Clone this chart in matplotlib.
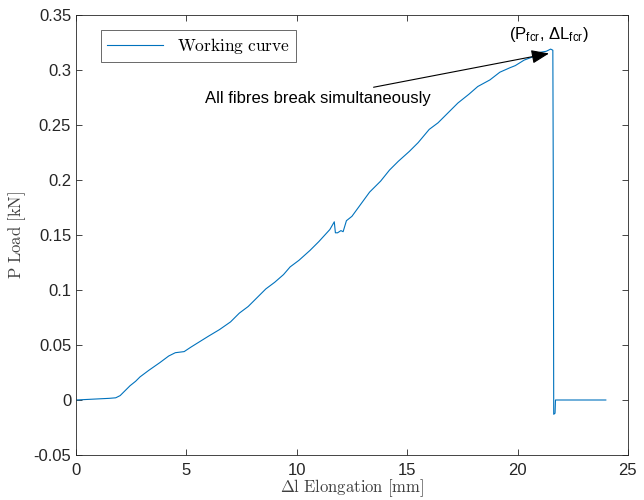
import matplotlib
matplotlib.use("Agg")
import matplotlib.pyplot as plt
from matplotlib.font_manager import FontProperties

plt.rcParams["font.family"] = ["Liberation Sans", "DejaVu Sans"]
plt.rcParams["mathtext.fontset"] = "custom"
plt.rcParams["mathtext.rm"] = "Liberation Sans"
plt.rcParams["mathtext.it"] = "Liberation Sans:italic"

# working curve (elongation mm, load kN)
elong = [0.0, 0.5, 1.0, 1.5, 1.8, 2.0, 2.2, 2.45, 2.7, 2.9, 3.3, 3.8, 4.2, 4.5, 4.9,
         5.2, 5.6, 6.0, 6.5, 7.0, 7.4, 7.8, 8.2, 8.6, 9.0, 9.4, 9.7, 10.1, 10.6,
         11.0, 11.5, 11.7, 11.75, 11.85, 12.0, 12.1, 12.25, 12.5, 12.9, 13.3,
         13.8, 14.2, 14.6, 15.1, 15.5, 16.0, 16.4, 16.9, 17.3, 17.8, 18.2, 18.75,
         19.2, 19.65, 19.9, 20.3, 20.7, 21.0, 21.3, 21.5, 21.6, 21.62, 21.64,
         21.7, 21.72, 22.5, 23.2, 24.0]
load = [0.0, 0.0005, 0.001, 0.0015, 0.002, 0.004, 0.008, 0.013, 0.017, 0.021,
        0.027, 0.034, 0.040, 0.043, 0.044, 0.048, 0.053, 0.058, 0.064, 0.071,
        0.079, 0.085, 0.093, 0.101, 0.107, 0.114, 0.121, 0.127, 0.136, 0.144,
        0.155, 0.162, 0.152, 0.152, 0.154, 0.153, 0.163, 0.167, 0.178, 0.189,
        0.199, 0.209, 0.217, 0.226, 0.234, 0.246, 0.252, 0.262, 0.27, 0.278,
        0.285, 0.291, 0.298, 0.302, 0.304, 0.309, 0.312, 0.316, 0.317, 0.319,
        0.318, 0.2, -0.013, -0.012, 0.0, 0.0, 0.0, 0.0]

xticks = [0, 5, 10, 15, 20, 25]
yticks = [-0.05, 0, 0.05, 0.1, 0.15, 0.2, 0.25, 0.3, 0.35]
ytick_labels = ["-0.05", "0", "0.05", "0.1", "0.15", "0.2", "0.25", "0.3", "0.35"]

fig = plt.figure(figsize=(6.44, 5.0), dpi=100)
ax = fig.add_axes([0.118, 0.09, 0.857, 0.88])

ax.plot(elong, load, color="#0072BD", lw=0.8,
        label=r"$\mathrm{Working\ curve}$")

ax.set_xlim(0, 25)
ax.set_ylim(-0.05, 0.35)
ax.set_xticks(xticks)
ax.set_xticklabels([str(t) for t in xticks])
ax.set_yticks(yticks)
ax.set_yticklabels(ytick_labels)
ax.tick_params(direction="in", top=True, right=True, labelsize=12,
               colors="#262626", length=4, width=0.6)
ax.tick_params(axis="x", pad=6)
for s in ax.spines.values():
    s.set_color("#262626")
    s.set_linewidth(0.6)

# serif labels in computer modern, like LaTeX interpreter
ax.set_xlabel(r"$\Delta\mathrm{l\ Elongation\ [mm]}$", fontsize=12,
              color="#404040", labelpad=-1, math_fontfamily="cm")
ax.set_ylabel(r"$\mathrm{P\ Load\ [kN]}$", fontsize=12, color="#404040",
              labelpad=4, math_fontfamily="cm")

ax.annotate("All fibres break simultaneously", xy=(21.55, 0.3155),
            xytext=(16.05, 0.2745), ha="right", va="center", fontsize=12,
            arrowprops=dict(arrowstyle="-|>,head_length=0.9,head_width=0.35",
                            color="black", lw=0.8))
ax.text(21.4, 0.332, r"(P$_{\rm fcr}$, $\Delta$L$_{\rm fcr}$)",
        ha="center", va="center", fontsize=12)

leg_font = FontProperties(size=12.5, math_fontfamily="cm")
leg = ax.legend(loc="upper left", prop=leg_font, bbox_to_anchor=(0.03, 0.985),
                fancybox=False, edgecolor="#262626", handlelength=3.2,
                borderpad=0.35)
leg.get_frame().set_linewidth(0.6)

fig.savefig("out.png", dpi=100)
